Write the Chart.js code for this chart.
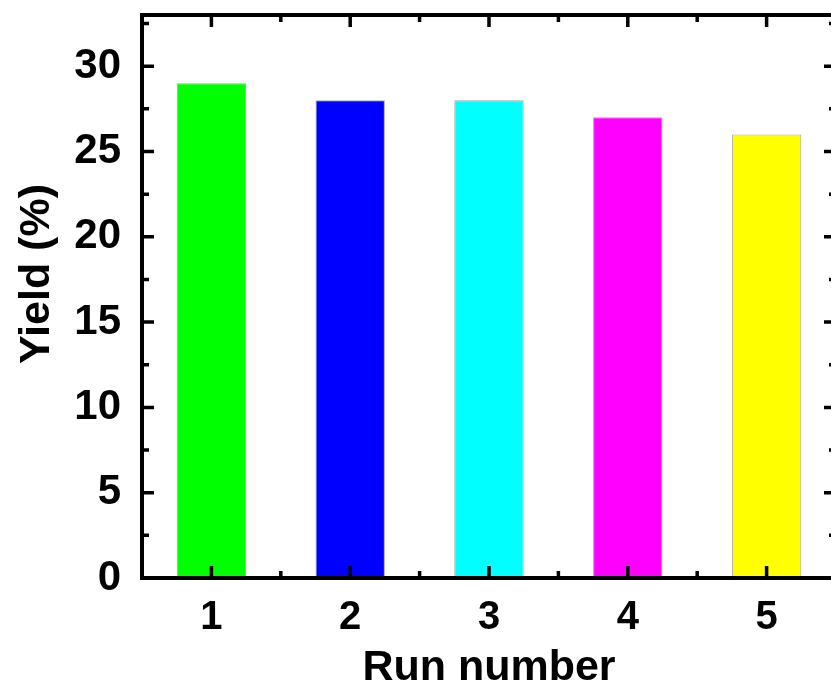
<!DOCTYPE html>
<html lang="en">
<head>
    <meta charset="UTF-8">
    <title>Yield vs Run number</title>
    <script src="https://cdn.jsdelivr.net/npm/chart.js"></script>
    <style>
        html, body {
            margin: 0;
            padding: 0;
            background: #ffffff;
            overflow: hidden;
        }
        .wrap {
            position: absolute;
            left: 0;
            top: 0;
            width: 860px;
            height: 686px;
        }
    </style>
</head>
<body>
    <div class="wrap"><canvas id="yieldChart"></canvas></div>

    <script>
        // data
        const runs = ['1', '2', '3', '4', '5'];
        const yieldPct = [29, 28, 28, 27, 26];
        const barColors = ['#00ff00', '#0000ff', '#00ffff', '#ff00ff', '#ffff00'];
        const yTicks = [0, 5, 10, 15, 20, 25, 30];

        const FONT = 'Liberation Sans, Arial, sans-serif';

        // frame, inward ticks and axis titles (origin style)
        const framePlugin = {
            id: 'frame',
            afterDraw(chart) {
                const ctx = chart.ctx;
                const a = chart.chartArea;
                const x = chart.scales.x;
                const y = chart.scales.y;
                ctx.save();
                ctx.strokeStyle = '#000';
                ctx.lineWidth = 4;
                ctx.strokeRect(a.left, a.top, a.right - a.left, a.bottom - a.top);

                ctx.lineWidth = 3.5;
                ctx.beginPath();
                // y major / minor
                for (let v = 0; v <= 33; v += 2.5) {
                    const py = y.getPixelForValue(v);
                    const len = (v % 5 === 0) ? 12 : 7;
                    ctx.moveTo(a.left, py); ctx.lineTo(a.left + len, py);
                    ctx.moveTo(a.right, py); ctx.lineTo(a.right - len, py);
                }
                // x major at categories, minor between
                for (let i = 0; i < runs.length; i++) {
                    const px = x.getPixelForValue(i);
                    ctx.moveTo(px, a.bottom); ctx.lineTo(px, a.bottom - 12);
                    ctx.moveTo(px, a.top); ctx.lineTo(px, a.top + 12);
                    if (i < runs.length - 1) {
                        const mx = (px + x.getPixelForValue(i + 1)) / 2;
                        ctx.moveTo(mx, a.bottom); ctx.lineTo(mx, a.bottom - 7);
                        ctx.moveTo(mx, a.top); ctx.lineTo(mx, a.top + 7);
                    }
                }
                ctx.stroke();

                ctx.fillStyle = '#000';
                ctx.font = 'bold 43px ' + FONT;
                ctx.textAlign = 'center';
                ctx.textBaseline = 'alphabetic';
                ctx.fillText('Run number', (a.left + a.right) / 2, 680);

                ctx.translate(49, 274);
                ctx.rotate(-Math.PI / 2);
                ctx.fillText('Yield (%)', 0, 0);
                ctx.restore();
            }
        };

        // drop the label overhang padding so the frame sits where the figure has it
        function noPad(scale) {
            scale.paddingTop = 0;
            scale.paddingBottom = 0;
            scale.paddingLeft = 0;
            scale.paddingRight = 0;
        }

        new Chart(document.getElementById('yieldChart'), {
            type: 'bar',
            data: {
                labels: runs,
                datasets: [{
                    label: 'Yield',
                    data: yieldPct,
                    backgroundColor: barColors,
                    borderColor: 'rgba(60,60,60,0.45)',
                    borderWidth: 1,
                    barPercentage: 0.5,
                    categoryPercentage: 1.0
                }]
            },
            options: {
                responsive: true,
                maintainAspectRatio: false,
                animation: false,
                layout: { padding: { top: 15, right: 24, left: 0, bottom: 0 } },
                plugins: {
                    legend: { display: false },
                    tooltip: { enabled: false }
                },
                scales: {
                    x: {
                        offset: true,
                        grid: { display: false },
                        border: { display: false },
                        ticks: {
                            color: '#000',
                            padding: 8,
                            font: { family: FONT, size: 40, weight: 'bold' }
                        },
                        afterFit(scale) { scale.height = 108; noPad(scale); }
                    },
                    y: {
                        min: 0,
                        max: 33,
                        grid: { display: false },
                        border: { display: false },
                        afterBuildTicks(scale) {
                            scale.ticks = yTicks.map(v => ({ value: v }));
                        },
                        ticks: {
                            color: '#000',
                            padding: 13,
                            font: { family: FONT, size: 42, weight: 'bold' }
                        },
                        afterFit(scale) { scale.width = 142; noPad(scale); }
                    }
                }
            },
            plugins: [framePlugin]
        });
    </script>
</body>
</html>
